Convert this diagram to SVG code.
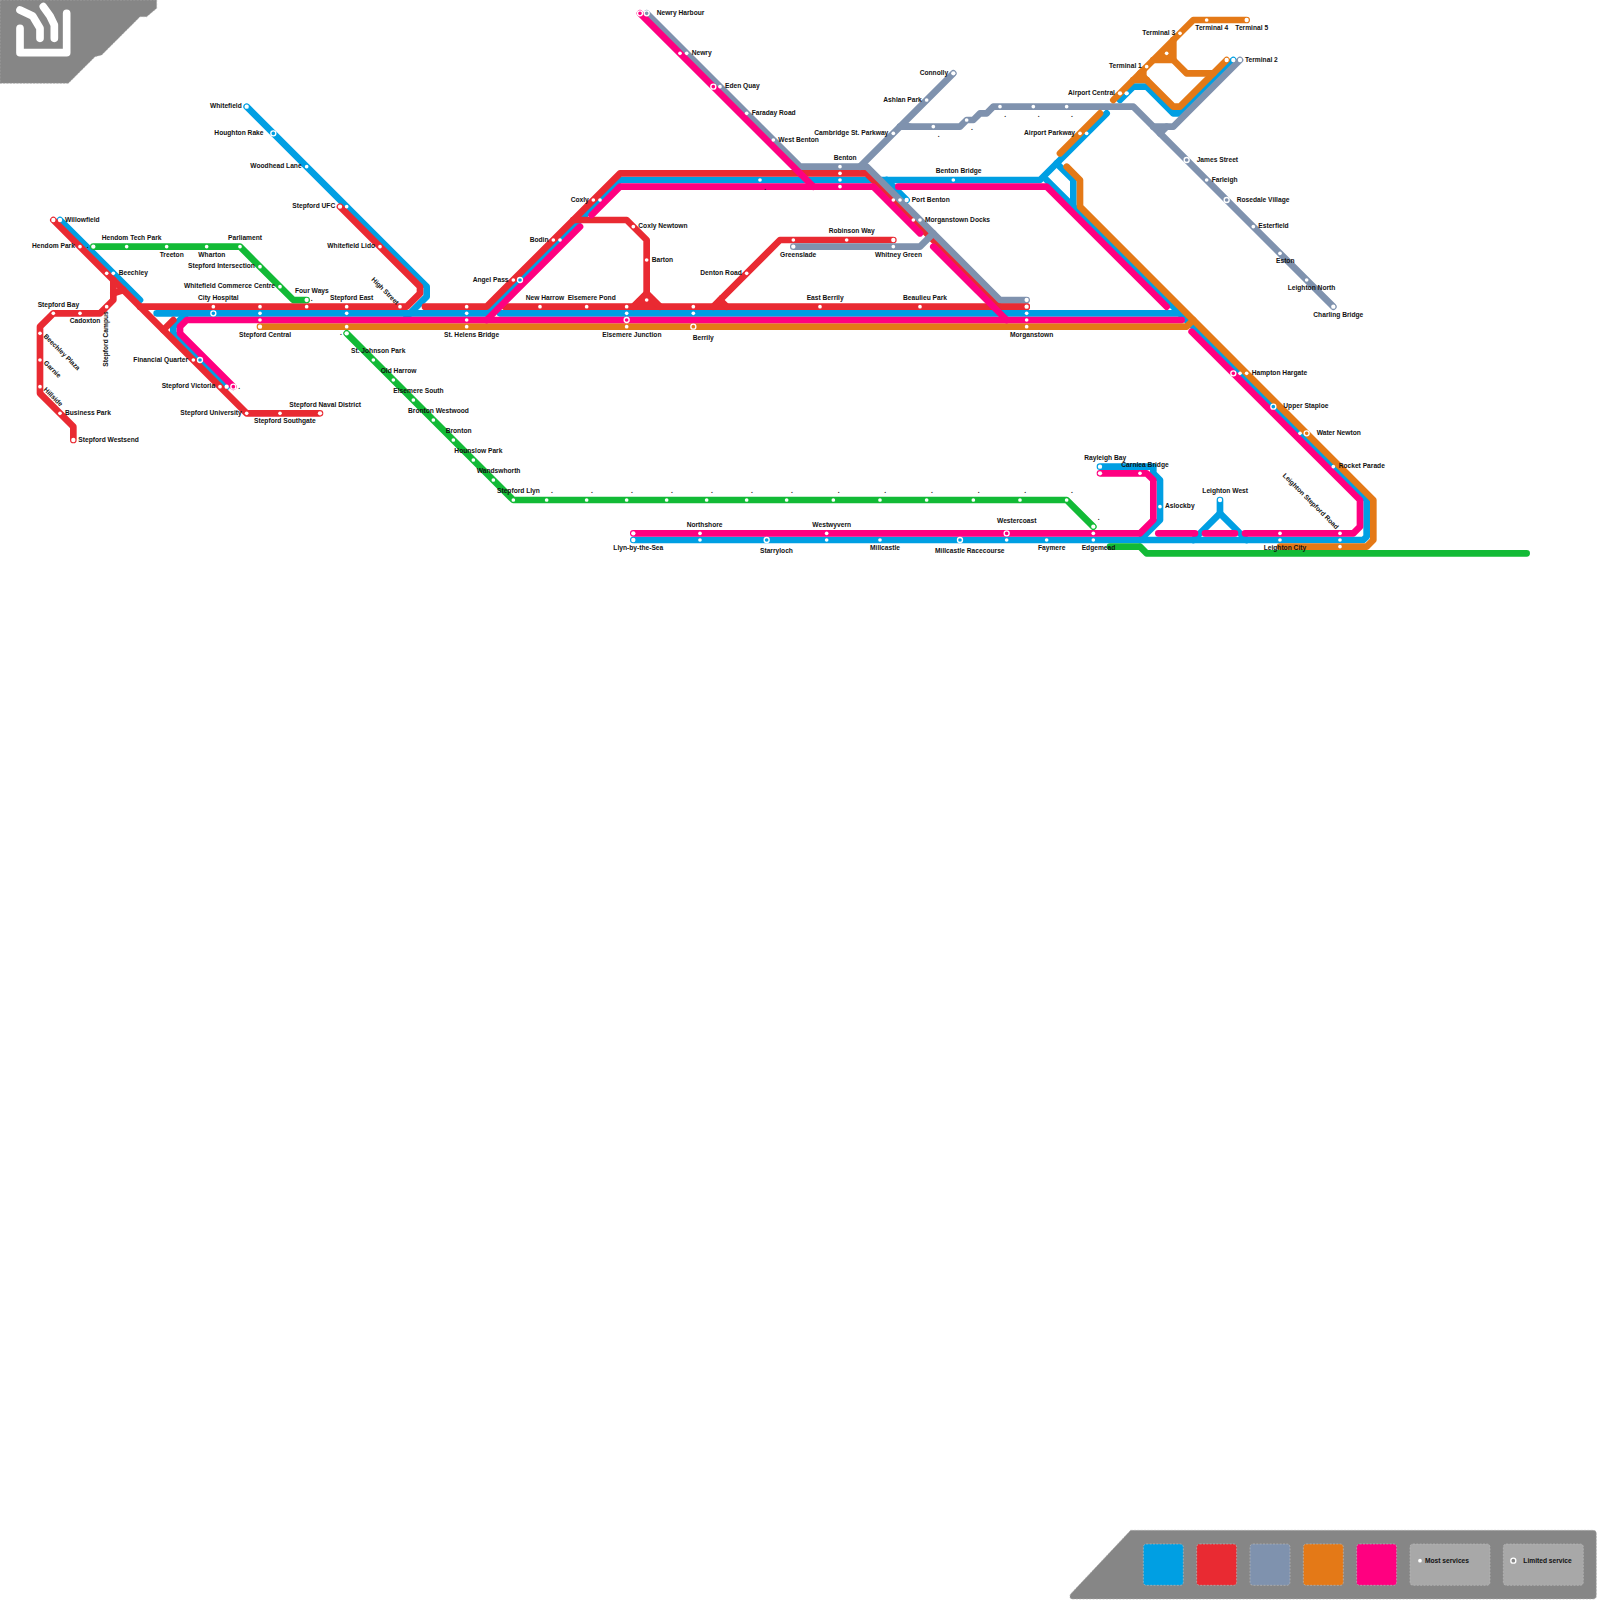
<svg xmlns="http://www.w3.org/2000/svg" width="1600" height="1600" viewBox="0 0 1600 1600">
<style>
text{font-family:"Liberation Sans",Arial,sans-serif;font-weight:700;font-size:20px;fill:#111}
.ln{fill:none;stroke-width:20;stroke-linecap:round;stroke-linejoin:round}
.b{stroke:#009fe3}.r{stroke:#e92a32}.st{stroke:#7f92ae}.o{stroke:#e47917}.m{stroke:#ff0080}.g{stroke:#12ba36}
.s{fill:#fff}
.d{r:5.5px}.t{r:6.5px}
.l{r:7.5px;stroke:#fff;stroke-width:4}
.fb{fill:#009fe3}.fr{fill:#e92a32}.fs{fill:#7f92ae}.fo{fill:#e47917}.fm{fill:#ff0080}
.pan{fill:#868686;stroke:#aaa;stroke-width:2;stroke-dasharray:6 4}
.sw{stroke:#bbb;stroke-width:2;stroke-dasharray:6 4}
</style>
<rect width="1600" height="1600" fill="#fff"/>
<g transform="scale(.33333)">
<g id="logo">
<path class="pan" d="M0 0H470V25L440 50H420L305 165L285 170L205 250H0Z"/>
<path fill="none" stroke="#fff" stroke-width="23" stroke-linecap="round" stroke-linejoin="round" d="M60 30L98 48L120 85V115M130 20L150 48L163 75V115M60 85V158H200V40"/>
</g>
<g id="connectors">
<g id="line-blue" class="ln b">
<polyline points="740,320 1280,860 1280,890 1220,950"/>
<polyline points="180,660 420,900"/>
<polyline points="470,940 1460,940 1860,540 3120,540 3320,340"/>
<polyline points="1500,940 3540,940 3560,960"/>
<polyline points="680,1160 520,1000 520,980 560,940"/>
<polyline points="2660,540 2720,600"/>
<polyline points="3170,490 3220,540 3220,620"/>
<polyline points="3140,540 4100,1500 4100,1610 4090,1620 1900,1620"/>
<polyline points="3360,300 3400,260 3440,260 3520,340 3540,340 3700,180"/>
<polyline points="3300,1400 3460,1400 3460,1420 3480,1440 3480,1560 3420,1620"/>
<polyline points="3580,1620 3660,1540 3740,1620"/>
<polyline points="3660,1500 3660,1540"/>
</g>
<g id="line-red" class="ln r">
<polyline points="160,660 740,1240 960,1240"/>
<polyline points="490,990 520,960"/>
<polyline points="220,1320 220,1280 120,1180 120,980 160,940 300,940 340,900 340,840"/>
<polyline points="340,880 370,870"/>
<polyline points="420,920 1220,920 1260,880 1260,860 1020,620"/>
<polyline points="1275,920 1460,920 1860,520 2600,520 3000,920 3080,920"/>
<polyline points="1515,920 3080,920"/>
<polyline points="1720,660 1880,660 1940,720 1940,890"/>
<polyline points="1900,920 1940,880 1980,920"/>
<polygon points="1895,915 1985,915 1940,870" fill="#e92a32" stroke="none"/>
<polyline points="2140,920 2340,720 2680,720"/>
<polyline points="2160,900 2180,920"/>
<polygon points="2140,915 2185,915 2160,885" fill="#e92a32" stroke="none"/>
</g>
<g id="line-steel" class="ln st">
<polyline points="1940,40 2400,500 2600,500 3000,900 3080,900"/>
<polyline points="2860,220 2580,500"/>
<polyline points="2700,380 2880,380 2900,360 2920,360 2940,340 2960,340 2980,320 3400,320 4000,920"/>
<polyline points="3720,180 3520,380 3460,380"/>
<polyline points="3480,400 3500,380"/>
<polyline points="2380,740 2760,740 2800,700"/>
<polygon points="2715,365 2745,375 2715,385" fill="#7f92ae" stroke="none"/>
</g>
<g id="line-orange" class="ln o">
<polyline points="780,980 3560,980 3580,960"/>
<polyline points="3200,500 3240,540 3240,620 4120,1500 4120,1620 4100,1640 3840,1640"/>
<polyline points="3180,460 3300,340"/>
<polyline points="3340,300 3580,60 3740,60"/>
<polyline points="3420,220 3520,320 3540,320 3680,180"/>
<polyline points="3520,120 3520,180 3560,220 3640,220"/>
<polyline points="3460,180 3520,180"/>
<polyline points="3400,240 3440,240"/>
<polygon points="3455,180 3525,110 3525,185" fill="#e47917" stroke="none"/>
<polygon points="3395,245 3440,200 3440,245" fill="#e47917" stroke="none"/>
</g>
<g id="line-magenta" class="ln m">
<polyline points="700,1160 540,1000 540,980 560,960 3545,960"/>
<polyline points="1460,960 1740,680"/>
<polyline points="1775,645 1860,560 2620,560 2760,700"/>
<polyline points="2800,740 3020,960"/>
<polyline points="1920,40 2440,560"/>
<polyline points="2695,560 3140,560 3500,920"/>
<polyline points="3575,995 4080,1500 4080,1580 4060,1600 3735,1600"/>
<polyline points="3615,1600 3705,1600"/>
<polyline points="3475,1600 3585,1600"/>
<polyline points="1900,1600 3420,1600 3460,1560 3460,1440 3440,1420 3300,1420"/>
</g>
<g id="line-green" class="ln g">
<polyline points="280,740 720,740 880,900 920,900"/>
<polyline points="1040,1000 1540,1500 3200,1500 3280,1580"/>
<polyline points="3330,1640 3420,1640 3440,1660 4580,1660"/>
</g>
</g>
<g id="stations">
<g id="n-whitefield"><circle class="s t" cx="740" cy="320"/><text x="630" y="325">Whitefield</text></g>
<g id="n-houghton-rake"><circle class="l fb" cx="820" cy="400"/><text x="643" y="405">Houghton Rake</text></g>
<g id="n-woodhead-lane"><circle class="s d" cx="920" cy="500"/><text x="751" y="505">Woodhead Lane</text></g>
<g id="n-stepford-ufc"><circle class="s t" cx="1020" cy="620"/><circle class="s d" cx="1040" cy="620"/><text x="877" y="625">Stepford UFC</text></g>
<g id="n-whitefield-lido"><circle class="s d" cx="1140" cy="740"/><text x="982" y="745">Whitefield Lido</text></g>
<g id="n-willowfield"><circle class="s t" cx="160" cy="660"/><circle class="s t" cx="180" cy="660"/><text x="195" y="665">Willowfield</text></g>
<g id="n-hendom-park"><circle class="s d" cx="240" cy="740"/><text x="96" y="745">Hendom Park</text></g>
<g id="n-dot-1"><circle class="s t" cx="280" cy="740"/><text x="260" y="745">.</text></g>
<g id="n-hendom-tech-park"><circle class="s d" cx="380" cy="740"/><text x="305" y="720">Hendom Tech Park</text></g>
<g id="n-treeton"><circle class="s d" cx="500" cy="740"/><text x="479" y="770">Treeton</text></g>
<g id="n-wharton"><circle class="s d" cx="620" cy="740"/><text x="595" y="770">Wharton</text></g>
<g id="n-parliament"><circle class="s d" cx="720" cy="740"/><text x="684" y="720">Parliament</text></g>
<g id="n-stepford-intersection"><circle class="s d" cx="780" cy="800"/><text x="564" y="805">Stepford Intersection</text></g>
<g id="n-whitefield-commerce-centre"><circle class="s d" cx="840" cy="860"/><text x="552" y="865">Whitefield Commerce Centre</text></g>
<g id="n-four-ways"><circle class="s t" cx="920" cy="900"/><circle class="s d" cx="920" cy="920"/><text x="885" y="880">Four Ways</text><text x="932" y="903">.</text></g>
<g id="n-beechley"><circle class="s d" cx="320" cy="820"/><circle class="s d" cx="340" cy="820"/><text x="356" y="825">Beechley</text></g>
<g id="n-stepford-bay"><circle class="s d" cx="160" cy="940"/><text x="113" y="920">Stepford Bay</text></g>
<g id="n-cadoxton"><circle class="s d" cx="240" cy="940"/><text x="209" y="970">Cadoxton</text></g>
<g id="n-stepford-campus"><circle class="s d" cx="320" cy="920"/><text transform="translate(325 1100) rotate(-90)">Stepford Campus</text></g>
<g id="n-beechley-plaza"><circle class="s d" cx="120" cy="1000"/><text transform="translate(130 1010) rotate(45)">Beechley Plaza</text></g>
<g id="n-garnie"><circle class="s d" cx="120" cy="1080"/><text transform="translate(130 1090) rotate(45)">Garnie</text></g>
<g id="n-hillside"><circle class="s d" cx="120" cy="1160"/><text transform="translate(130 1170) rotate(45)">Hillside</text></g>
<g id="n-business-park"><circle class="s d" cx="180" cy="1240"/><text x="195" y="1245">Business Park</text></g>
<g id="n-stepford-westsend"><circle class="s t" cx="220" cy="1320"/><text x="235" y="1325">Stepford Westsend</text></g>
<g id="n-financial-quarter"><circle class="s d" cx="580" cy="1080"/><circle class="l fb" cx="600" cy="1080"/><text x="400" y="1085">Financial Quarter</text></g>
<g id="n-stepford-victoria"><circle class="s d" cx="660" cy="1160"/><circle class="s t" cx="680" cy="1160"/><circle class="l fm" cx="700" cy="1160"/><text x="485" y="1165">Stepford Victoria</text><text x="715" y="1166">.</text></g>
<g id="n-stepford-university"><circle class="s d" cx="740" cy="1240"/><text x="541" y="1245">Stepford University</text></g>
<g id="n-stepford-southgate"><circle class="s d" cx="840" cy="1240"/><text x="762" y="1270">Stepford Southgate</text></g>
<g id="n-stepford-naval-district"><circle class="s t" cx="960" cy="1240"/><text x="868" y="1220">Stepford Naval District</text></g>
<g id="n-city-hospital"><circle class="s d" cx="640" cy="920"/><circle class="l fb" cx="640" cy="940"/><text x="594" y="900">City Hospital</text></g>
<g id="n-stepford-central"><circle class="s d" cx="780" cy="920"/><circle class="s d" cx="780" cy="940"/><circle class="s d" cx="780" cy="960"/><circle class="s t" cx="780" cy="980"/><text x="717" y="1010">Stepford Central</text></g>
<g id="n-stepford-east"><circle class="s d" cx="1040" cy="920"/><circle class="s d" cx="1040" cy="940"/><circle class="s d" cx="1040" cy="980"/><text x="990" y="900">Stepford East</text></g>
<g id="n-high-street"><circle class="s d" cx="1200" cy="920"/><text transform="translate(1113 840) rotate(45)">High Street</text></g>
<g id="n-st-helens-bridge"><circle class="s d" cx="1400" cy="920"/><circle class="s d" cx="1400" cy="940"/><circle class="s d" cx="1400" cy="960"/><circle class="s d" cx="1400" cy="980"/><text x="1332" y="1010">St. Helens Bridge</text></g>
<g id="n-new-harrow"><circle class="s d" cx="1620" cy="920"/><text x="1577" y="900">New Harrow</text></g>
<g id="n-elsemere-pond"><circle class="s d" cx="1760" cy="920"/><text x="1703" y="900">Elsemere Pond</text></g>
<g id="n-elsemere-junction"><circle class="s d" cx="1880" cy="920"/><circle class="s d" cx="1880" cy="940"/><circle class="l fm" cx="1880" cy="960"/><circle class="s d" cx="1880" cy="980"/><text x="1807" y="1010">Elsemere Junction</text></g>
<g id="n-berrily"><circle class="s d" cx="2080" cy="920"/><circle class="s d" cx="2080" cy="940"/><circle class="l fo" cx="2080" cy="980"/><text x="2078" y="1020">Berrily</text></g>
<g id="n-angel-pass"><circle class="s d" cx="1540" cy="840"/><circle class="l fb" cx="1560" cy="840"/><text x="1418" y="845">Angel Pass</text></g>
<g id="n-bodin"><circle class="s d" cx="1660" cy="720"/><circle class="s d" cx="1680" cy="720"/><text x="1589" y="725">Bodin</text></g>
<g id="n-coxly"><circle class="s d" cx="1780" cy="600"/><circle class="s d" cx="1800" cy="600"/><text x="1712" y="605">Coxly</text></g>
<g id="n-coxly-newtown"><circle class="s d" cx="1900" cy="680"/><text x="1915" y="685">Coxly Newtown</text></g>
<g id="n-barton"><circle class="s d" cx="1940" cy="780"/><text x="1955" y="785">Barton</text></g>
<g id="n-dot-2"><circle class="s d" cx="1940" cy="900"/></g>
<g id="n-denton-road"><circle class="s d" cx="2240" cy="820"/><text x="2101" y="825">Denton Road</text></g>
<g id="n-robinson-way"><circle class="s d" cx="2380" cy="720"/><circle class="s d" cx="2540" cy="720"/><circle class="s t" cx="2680" cy="720"/><text x="2486" y="700">Robinson Way</text></g>
<g id="n-greenslade"><circle class="s t" cx="2380" cy="740"/><text x="2340" y="770">Greenslade</text></g>
<g id="n-whitney-green"><circle class="s d" cx="2680" cy="740"/><text x="2625" y="770">Whitney Green</text></g>
<g id="n-east-berrily"><circle class="s d" cx="2460" cy="920"/><text x="2420" y="900">East Berrily</text></g>
<g id="n-beaulieu-park"><circle class="s d" cx="2760" cy="920"/><text x="2709" y="900">Beaulieu Park</text></g>
<g id="n-morganstown"><circle class="s t" cx="3080" cy="900"/><circle class="s t" cx="3080" cy="920"/><circle class="s d" cx="3080" cy="940"/><circle class="s d" cx="3080" cy="960"/><circle class="s d" cx="3080" cy="980"/><text x="3030" y="1010">Morganstown</text></g>
<g id="n-dot-3"><circle class="s d" cx="2280" cy="540"/><text x="2293" y="570">.</text></g>
<g id="n-benton"><circle class="s d" cx="2520" cy="500"/><circle class="s d" cx="2520" cy="520"/><circle class="s d" cx="2520" cy="540"/><circle class="s d" cx="2520" cy="560"/><text x="2501" y="480">Benton</text></g>
<g id="n-benton-bridge"><circle class="s d" cx="2860" cy="540"/><text x="2807" y="520">Benton Bridge</text></g>
<g id="n-port-benton"><circle class="s d" cx="2680" cy="600"/><circle class="s d" cx="2700" cy="600"/><circle class="s t" cx="2720" cy="600"/><text x="2735" y="605">Port Benton</text></g>
<g id="n-morganstown-docks"><circle class="s d" cx="2740" cy="660"/><circle class="s d" cx="2760" cy="660"/><text x="2775" y="665">Morganstown Docks</text></g>
<g id="n-newry-harbour"><circle class="l fm" cx="1920" cy="40"/><circle class="l fs" cx="1940" cy="40"/><text x="1970" y="45">Newry Harbour</text></g>
<g id="n-newry"><circle class="s d" cx="2040" cy="160"/><circle class="s d" cx="2060" cy="160"/><text x="2075" y="165">Newry</text></g>
<g id="n-eden-quay"><circle class="l fm" cx="2140" cy="260"/><circle class="s d" cx="2160" cy="260"/><text x="2175" y="265">Eden Quay</text></g>
<g id="n-faraday-road"><circle class="s d" cx="2240" cy="340"/><text x="2255" y="345">Faraday Road</text></g>
<g id="n-west-benton"><circle class="s d" cx="2320" cy="420"/><text x="2335" y="425">West Benton</text></g>
<g id="n-connolly"><circle class="s t" cx="2860" cy="220"/><text x="2759" y="225">Connolly</text></g>
<g id="n-ashlan-park"><circle class="s d" cx="2780" cy="300"/><text x="2650" y="305">Ashlan Park</text></g>
<g id="n-cambridge-st-parkway"><circle class="s d" cx="2680" cy="400"/><text x="2443" y="405">Cambridge St. Parkway</text></g>
<g id="n-u1"><circle class="s d" cx="2800" cy="380"/><text x="2813" y="410">.</text></g>
<g id="n-u2"><circle class="s d" cx="2900" cy="360"/><text x="2913" y="390">.</text></g>
<g id="n-u3"><circle class="s d" cx="3000" cy="320"/><text x="3013" y="350">.</text></g>
<g id="n-u4"><circle class="s d" cx="3100" cy="320"/><text x="3113" y="350">.</text></g>
<g id="n-u5"><circle class="s d" cx="3200" cy="320"/><text x="3213" y="350">.</text></g>
<g id="n-airport-parkway"><circle class="s d" cx="3240" cy="400"/><circle class="s d" cx="3260" cy="400"/><text x="3072" y="405">Airport Parkway</text></g>
<g id="n-airport-central"><circle class="s t" cx="3360" cy="280"/><circle class="s t" cx="3380" cy="280"/><text x="3204" y="285">Airport Central</text></g>
<g id="n-terminal-1"><circle class="s d" cx="3440" cy="200"/><text x="3327" y="205">Terminal 1</text></g>
<g id="n-dot-4"><circle class="s d" cx="3500" cy="160"/></g>
<g id="n-terminal-3"><circle class="s d" cx="3540" cy="100"/><text x="3427" y="105">Terminal 3</text></g>
<g id="n-terminal-4"><circle class="s d" cx="3620" cy="60"/><text x="3586" y="90">Terminal 4</text></g>
<g id="n-terminal-5"><circle class="s t" cx="3740" cy="60"/><text x="3706" y="90">Terminal 5</text></g>
<g id="n-terminal-2"><circle class="s t" cx="3680" cy="180"/><circle class="s t" cx="3700" cy="180"/><circle class="s t" cx="3720" cy="180"/><text x="3735" y="185">Terminal 2</text></g>
<g id="n-james-street"><circle class="l fs" cx="3560" cy="480"/><text x="3590" y="485">James Street</text></g>
<g id="n-farleigh"><circle class="s d" cx="3620" cy="540"/><text x="3635" y="545">Farleigh</text></g>
<g id="n-rosedale-village"><circle class="l fs" cx="3680" cy="600"/><text x="3710" y="605">Rosedale Village</text></g>
<g id="n-esterfield"><circle class="s d" cx="3760" cy="680"/><text x="3775" y="685">Esterfield</text></g>
<g id="n-eston"><circle class="s d" cx="3840" cy="760"/><text x="3828" y="790">Eston</text></g>
<g id="n-leighton-north"><circle class="s d" cx="3920" cy="840"/><text x="3863" y="870">Leighton North</text></g>
<g id="n-charling-bridge"><circle class="s t" cx="4000" cy="920"/><text x="3940" y="950">Charling Bridge</text></g>
<g id="n-hampton-hargate"><circle class="l fm" cx="3700" cy="1120"/><circle class="s d" cx="3720" cy="1120"/><circle class="s d" cx="3740" cy="1120"/><text x="3755" y="1125">Hampton Hargate</text></g>
<g id="n-upper-staploe"><circle class="l fb" cx="3820" cy="1220"/><text x="3850" y="1225">Upper Staploe</text></g>
<g id="n-water-newton"><circle class="s d" cx="3900" cy="1300"/><circle class="l fo" cx="3920" cy="1300"/><text x="3950" y="1305">Water Newton</text></g>
<g id="n-rocket-parade"><circle class="s d" cx="4000" cy="1400"/><text x="4016" y="1405">Rocket Parade</text></g>
<g id="n-leighton-stepford-road"><circle class="s d" cx="4020" cy="1600"/><circle class="s d" cx="4020" cy="1620"/><circle class="s d" cx="4020" cy="1640"/><text transform="translate(3847 1428) rotate(45)">Leighton Stepford Road</text></g>
<g id="n-leighton-city"><circle class="s d" cx="3840" cy="1600"/><circle class="s d" cx="3840" cy="1620"/><text x="3791" y="1650">Leighton City</text></g>
<g id="n-leighton-west"><circle class="s t" cx="3660" cy="1500"/><text x="3607" y="1480">Leighton West</text></g>
<g id="n-aslockby"><circle class="s d" cx="3480" cy="1520"/><text x="3495" y="1525">Aslockby</text></g>
<g id="n-carnlea-bridge"><circle class="s d" cx="3420" cy="1420"/><text x="3364" y="1401">Carnlea Bridge</text></g>
<g id="n-rayleigh-bay"><circle class="s t" cx="3300" cy="1400"/><circle class="s t" cx="3300" cy="1420"/><text x="3253" y="1380">Rayleigh Bay</text></g>
<g id="n-edgemead"><circle class="s t" cx="3280" cy="1580"/><circle class="s d" cx="3280" cy="1600"/><circle class="s d" cx="3280" cy="1620"/><text x="3245" y="1650">Edgemead</text><text x="3293" y="1560">.</text></g>
<g id="n-faymere"><circle class="s d" cx="3140" cy="1620"/><text x="3114" y="1650">Faymere</text></g>
<g id="n-westercoast"><circle class="l fm" cx="3020" cy="1600"/><circle class="s d" cx="3020" cy="1620"/><text x="2991" y="1570">Westercoast</text></g>
<g id="n-millcastle-racecourse"><circle class="l fb" cx="2880" cy="1620"/><text x="2805" y="1660">Millcastle Racecourse</text></g>
<g id="n-millcastle"><circle class="s d" cx="2640" cy="1620"/><text x="2610" y="1650">Millcastle</text></g>
<g id="n-westwyvern"><circle class="s d" cx="2480" cy="1600"/><circle class="s d" cx="2480" cy="1620"/><text x="2437" y="1580">Westwyvern</text></g>
<g id="n-starryloch"><circle class="l fb" cx="2300" cy="1620"/><text x="2280" y="1660">Starryloch</text></g>
<g id="n-northshore"><circle class="s d" cx="2100" cy="1600"/><circle class="s d" cx="2100" cy="1620"/><text x="2060" y="1580">Northshore</text></g>
<g id="n-llyn-by-the-sea"><circle class="s t" cx="1900" cy="1600"/><circle class="s t" cx="1900" cy="1620"/><text x="1840" y="1650">Llyn-by-the-Sea</text></g>
<g id="n-st-johnson-dot"><circle class="s t" cx="1040" cy="1000"/><text x="1020" y="1005">.</text></g>
<g id="n-st-johnson-park"><circle class="s d" cx="1120" cy="1080"/><text x="1053" y="1060">St. Johnson Park</text></g>
<g id="n-old-harrow"><circle class="s d" cx="1180" cy="1140"/><text x="1142" y="1120">Old Harrow</text></g>
<g id="n-elsemere-south"><circle class="s d" cx="1240" cy="1200"/><text x="1180" y="1180">Elsemere South</text></g>
<g id="n-bronton-westwood"><circle class="s d" cx="1300" cy="1260"/><text x="1224" y="1240">Bronton Westwood</text></g>
<g id="n-bronton"><circle class="s d" cx="1360" cy="1320"/><text x="1337" y="1300">Bronton</text></g>
<g id="n-hounslow-park"><circle class="s d" cx="1420" cy="1380"/><text x="1363" y="1360">Hounslow Park</text></g>
<g id="n-wandswhorth"><circle class="s d" cx="1480" cy="1440"/><text x="1430" y="1420">Wandswhorth</text></g>
<g id="n-stepford-llyn"><circle class="s d" cx="1540" cy="1500"/><text x="1491" y="1480">Stepford Llyn</text></g>
<g id="n-g1"><circle class="s d" cx="1640" cy="1500"/><text x="1653" y="1480">.</text></g>
<g id="n-g2"><circle class="s d" cx="1760" cy="1500"/><text x="1773" y="1480">.</text></g>
<g id="n-g3"><circle class="s d" cx="1880" cy="1500"/><text x="1893" y="1480">.</text></g>
<g id="n-g4"><circle class="s d" cx="2000" cy="1500"/><text x="2013" y="1480">.</text></g>
<g id="n-g5"><circle class="s d" cx="2120" cy="1500"/><text x="2133" y="1480">.</text></g>
<g id="n-g6"><circle class="s d" cx="2240" cy="1500"/><text x="2253" y="1480">.</text></g>
<g id="n-g7"><circle class="s d" cx="2360" cy="1500"/><text x="2373" y="1480">.</text></g>
<g id="n-g8"><circle class="s d" cx="2500" cy="1500"/><text x="2513" y="1480">.</text></g>
<g id="n-g9"><circle class="s d" cx="2640" cy="1500"/><text x="2653" y="1480">.</text></g>
<g id="n-g10"><circle class="s d" cx="2780" cy="1500"/><text x="2793" y="1480">.</text></g>
<g id="n-g11"><circle class="s d" cx="2920" cy="1500"/><text x="2933" y="1480">.</text></g>
<g id="n-g12"><circle class="s d" cx="3060" cy="1500"/><text x="3073" y="1480">.</text></g>
<g id="n-g13"><circle class="s d" cx="3200" cy="1500"/><text x="3213" y="1480">.</text></g>
</g>
<g id="legend">
<path class="pan" d="M3392 4591H4779Q4789 4591 4789 4601V4787Q4789 4797 4779 4797H3220Q3205 4797 3212 4782Z"/>
<rect class="sw fb" x="3430" y="4632" width="120" height="124" rx="9"/>
<rect class="sw fr" x="3590" y="4632" width="120" height="124" rx="9"/>
<rect class="sw fs" x="3750" y="4632" width="120" height="124" rx="9"/>
<rect class="sw fo" x="3910" y="4632" width="120" height="124" rx="9"/>
<rect class="sw fm" x="4070" y="4632" width="120" height="124" rx="9"/>
<rect class="sw" fill="#a8a8a8" x="4230" y="4632" width="240" height="124" rx="9"/>
<circle class="s d" cx="4260" cy="4682"/>
<text x="4275" y="4689">Most services</text>
<rect class="sw" fill="#a8a8a8" x="4510" y="4632" width="240" height="124" rx="9"/>
<circle class="l" fill="#868686" cx="4540" cy="4682"/>
<text x="4570" y="4689">Limited service</text>
</g>
</g>
</svg>
